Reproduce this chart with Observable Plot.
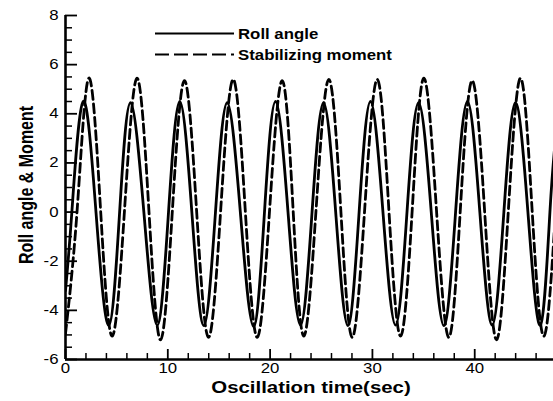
<!DOCTYPE html>
<html><head><meta charset="utf-8">
<script src="https://cdn.jsdelivr.net/npm/d3@7"></script>
<script src="https://cdn.jsdelivr.net/npm/@observablehq/plot@0.6"></script>
<style>
html,body{margin:0;padding:0;background:#fff;}
#chart{width:553px;height:401px;overflow:hidden;}
</style></head><body><div id="chart"></div>
<script>
// Roll angle (solid) keypoints: peaks, zero crossings, troughs
const rollTime = [0, 0.62, 1.73, 2.98, 4.23, 5.29, 6.35, 7.66, 8.96, 10.07, 11.17, 12.35, 13.52, 14.66, 15.80, 17.09, 18.38, 19.45, 20.53, 21.75, 22.97, 24.10, 25.22, 26.41, 27.60, 28.70, 29.81, 31.03, 32.26, 33.38, 34.51, 35.75, 36.98, 38.13, 39.29, 40.50, 41.71, 42.85, 43.98, 45.20, 46.42, 47.35, 47.90];
const rollValue = [-3.2, 0, 4.5, 0, -4.62, 0, 4.45, 0, -4.6, 0, 4.5, 0, -4.62, 0, 4.45, 0, -4.65, 0, 4.5, 0, -4.6, 0, 4.45, 0, -4.62, 0, 4.5, 0, -4.6, 0, 4.45, 0, -4.62, 0, 4.5, 0, -4.6, 0, 4.45, 0, -4.6, 0, 3.0];
// Stabilizing moment (dashed) keypoints
const momentTime = [0, 1.15, 2.28, 3.42, 4.56, 5.78, 6.99, 8.14, 9.29, 10.46, 11.63, 12.80, 13.98, 15.18, 16.39, 17.56, 18.74, 19.96, 21.18, 22.24, 23.29, 24.50, 25.74, 26.90, 28.03, 29.25, 30.47, 31.60, 32.75, 33.90, 35.03, 36.25, 37.47, 38.60, 39.75, 40.95, 42.13, 43.30, 44.48, 45.60, 46.75, 47.92];
const momentValue = [-4.95, 0.15, 5.45, 0.15, -5.05, 0.15, 5.45, 0.15, -5.2, 0.15, 5.35, 0.15, -5.1, 0.15, 5.4, 0.15, -5.1, 0.15, 5.35, 0.15, -5.05, 0.15, 5.4, 0.15, -5.1, 0.15, 5.4, 0.15, -5.05, 0.15, 5.45, 0.15, -5.1, 0.15, 5.35, 0.15, -5.2, 0.15, 5.45, 0.15, -5.05, 0.15];

const seriesNames = ["Roll angle", "Stabilizing moment"];
const xTicks = [0, 10, 20, 30, 40];
const xMinorTicks = [2, 4, 6, 8, 12, 14, 16, 18, 22, 24, 26, 28, 32, 34, 36, 38, 42, 44, 46];
const yTicks = [-6, -4, -2, 0, 2, 4, 6, 8];
const yMinorTicks = [-5.5, -5, -4.5, -3.5, -3, -2.5, -1.5, -1, -0.5, 0.5, 1, 1.5, 2.5, 3, 3.5, 4.5, 5, 5.5, 6.5, 7, 7.5];
const xDomain = [0, 47.7];
const yDomain = [-6, 8];
const xTitle = "Oscillation time(sec)";
const yTitle = "Roll angle & Moment";

const W = 553, H = 401, mL = 65, mR = 0, mT = 15, mB = 42;
const xu = (xDomain[1] - xDomain[0]) / (W - mL - mR);
const yu = (yDomain[1] - yDomain[0]) / (H - mT - mB);

const roll = rollTime.map((t, i) => ({t, v: rollValue[i]}));
const moment = momentTime.map((t, i) => ({t, v: momentValue[i]}));

const plot = Plot.plot({
  width: W, height: H,
  marginLeft: mL, marginRight: mR, marginTop: mT, marginBottom: mB,
  style: {fontFamily: "'Liberation Sans', Arial, sans-serif", fontSize: "14px", color: "#000", background: "#fff", overflow: "visible"},
  x: {domain: xDomain},
  y: {domain: yDomain},
  marks: [
    Plot.line(roll, {x: "t", y: "v", curve: "natural", stroke: "#000", strokeWidth: 2.8, clip: true}),
    Plot.line(moment, {x: "t", y: "v", curve: "natural", stroke: "#000", strokeWidth: 2.8, strokeDasharray: "9,4.5", clip: true}),
    Plot.ruleY(yTicks, {x1: 0, x2: 12 * xu, strokeWidth: 1.8}),
    Plot.ruleY(yMinorTicks, {x1: 0, x2: 7 * xu, strokeWidth: 1.5}),
    Plot.ruleX(xTicks, {y1: yDomain[0], y2: yDomain[0] + 10 * yu, strokeWidth: 1.8}),
    Plot.ruleX(xMinorTicks, {y1: yDomain[0], y2: yDomain[0] + 6 * yu, strokeWidth: 1.5}),
    Plot.ruleX([xDomain[0]], {strokeWidth: 2.6}),
    Plot.ruleY([yDomain[0]], {strokeWidth: 2.6}),
    Plot.axisX(xTicks, {tickSize: 0, tickPadding: 4, label: null, tickFormat: d => String(d)}),
    Plot.axisY(yTicks, {tickSize: 0, tickPadding: 7, label: null, tickFormat: d => String(d)})
  ]
});

document.getElementById("chart").appendChild(plot);
const svg = d3.select(plot);

// widen tick labels horizontally like the reference
svg.selectAll("text").each(function() {
  const tr = this.getAttribute("transform") || "";
  this.setAttribute("transform", tr + " scale(1.2,1)");
});

// axis titles
svg.append("text")
  .attr("transform", `translate(${(mL + W - mR) / 2 + 2},393) scale(1.2,1)`)
  .attr("text-anchor", "middle")
  .attr("font-weight", "bold").attr("font-size", 17)
  .attr("fill", "#000")
  .text(xTitle);
svg.append("text")
  .attr("transform", `translate(33,185) rotate(-90) scale(1,1.25)`)
  .attr("text-anchor", "middle")
  .attr("font-weight", "bold").attr("font-size", 16)
  .attr("fill", "#000")
  .text(yTitle);

// legend
const legRows = [{y: 33.5, dash: null}, {y: 54.5, dash: "14,5"}];
seriesNames.forEach((name, i) => {
  const r = legRows[i];
  const ln = svg.append("line")
    .attr("x1", 155).attr("x2", 234).attr("y1", r.y).attr("y2", r.y)
    .attr("stroke", "#000").attr("stroke-width", 2);
  if (r.dash) ln.attr("stroke-dasharray", r.dash);
  svg.append("text")
    .attr("transform", `translate(238,${r.y + 5}) scale(1.2,1)`)
    .attr("text-anchor", "start")
    .attr("font-weight", "bold").attr("font-size", 14)
    .attr("fill", "#000")
    .text(name);
});
</script></body></html>
